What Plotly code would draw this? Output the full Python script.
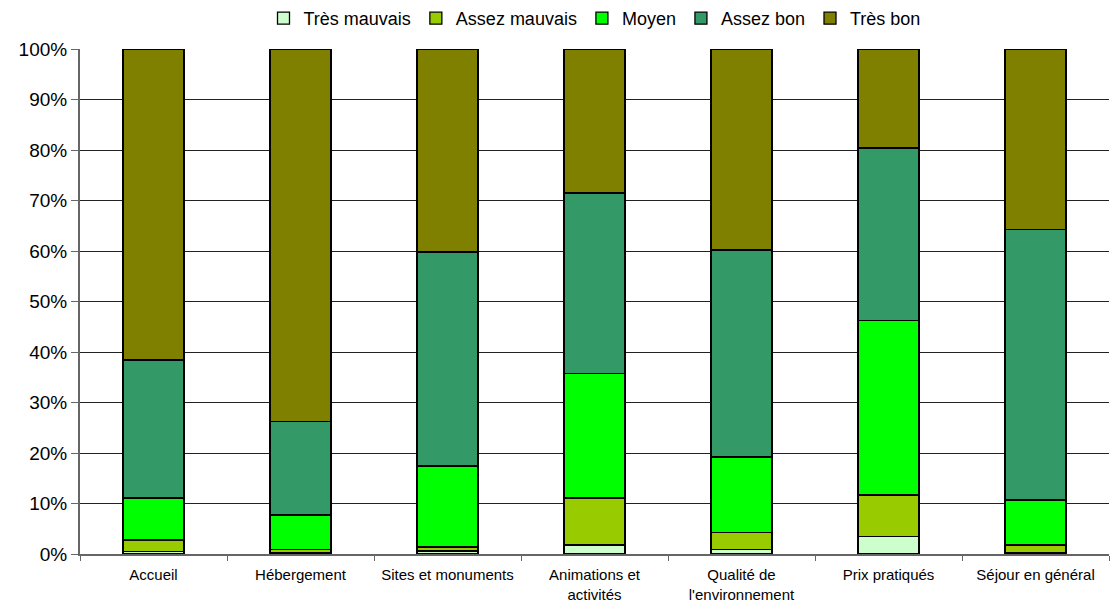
import plotly.graph_objects as go

categories = ["Accueil", "Hébergement", "Sites et monuments", "Animations et<br>activités",
              "Qualité de<br>l'environnement", "Prix pratiqués", "Séjour en général"]
series_names = ["Très mauvais", "Assez mauvais", "Moyen", "Assez bon", "Très bon"]
tres_mauvais = [0.5, 0.3, 0.6, 1.8, 0.9, 3.4, 0.3]
assez_mauvais = [2.3, 0.6, 0.8, 9.3, 3.4, 8.3, 1.5]
moyen = [8.3, 6.8, 16.0, 24.7, 14.9, 34.6, 8.9]
assez_bon = [27.3, 18.6, 42.4, 35.7, 41.0, 34.1, 53.5]
tres_bon = [61.6, 73.7, 40.2, 28.5, 39.8, 19.6, 35.8]
colors = ["#CCFFCC", "#99CC00", "#00FF00", "#339966", "#808000"]

fig = go.Figure()
for name, vals, col in zip(series_names, [tres_mauvais, assez_mauvais, moyen, assez_bon, tres_bon], colors):
    fig.add_trace(go.Bar(x=categories, y=vals, name=name, marker=dict(color=col, line=dict(color="black", width=1.3))))

fig.update_layout(
    barmode="stack", barnorm="percent", bargap=0.585,
    width=1113, height=607,
    margin=dict(l=80, r=4, t=49, b=53, autoexpand=False),
    plot_bgcolor="white", paper_bgcolor="white",
    font=dict(family="Liberation Sans, Arial, sans-serif", color="black"),
    legend=dict(orientation="h", x=0.5, xanchor="center", yref="container", y=1.0, yanchor="top",
                font=dict(size=18), traceorder="normal", itemwidth=30),
    showlegend=True,
)
fig.update_yaxes(range=[0, 100], dtick=10, ticksuffix="%", showgrid=True, gridcolor="#222222", gridwidth=1,
                 showline=True, linecolor="#666666", linewidth=2, ticks="outside", ticklen=7, tickcolor="#666666",
                 tickfont=dict(size=19), zeroline=False, automargin=False)
fig.update_xaxes(showline=True, linecolor="#666666", linewidth=2, ticks="outside", tickson="boundaries",
                 ticklen=5, tickcolor="#666666", tickfont=dict(size=15), tickangle=0, ticklabelstandoff=6,
                 automargin=False)
fig.write_html("out.html")
